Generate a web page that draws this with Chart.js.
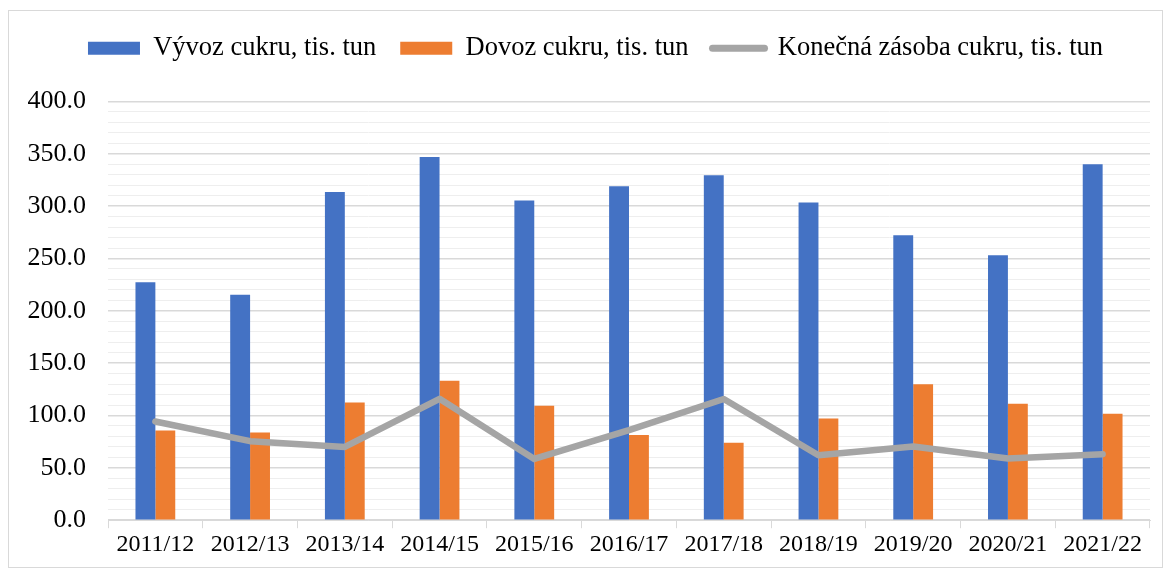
<!DOCTYPE html>
<html>
<head>
<meta charset="utf-8">
<script src="https://cdn.jsdelivr.net/npm/chart.js@4.4.1/dist/chart.umd.min.js"></script>
<style>
  html, body { margin: 0; padding: 0; background: #fff; }
  #wrap {
    position: absolute; left: 8px; top: 10px;
    width: 1153px; height: 556px;
    border: 1px solid #d9d9d9;
  }
</style>
</head>
<body>
<div id="wrap"><canvas id="chart"></canvas></div>
<script>
var seasons = ['2011/12', '2012/13', '2013/14', '2014/15', '2015/16', '2016/17',
               '2017/18', '2018/19', '2019/20', '2020/21', '2021/22'];
var exportValues = [227.3, 215.5, 313.5, 347.0, 305.5, 319.0, 329.5, 303.5, 272.3, 253.0, 340.0];
var importValues = [85.8, 83.8, 112.5, 133.3, 109.3, 81.3, 73.9, 97.2, 129.8, 111.3, 101.7];
var stockValues = [94.3, 75.5, 70.0, 116.0, 58.5, 86.0, 115.8, 62.0, 70.5, 59.0, 63.0];

var serif = "'Liberation Serif', 'Times New Roman', serif";

// extra room under the legend, and nudge it a bit to the right
var legendSpace = {
  id: 'legendSpace',
  beforeInit: function(chart){
    var fit = chart.legend.fit;
    chart.legend.fit = function(){
      fit.bind(chart.legend)();
      this.height += 30;
    };
  },
  afterLayout: function(chart){
    chart.legend.left += 16;
    chart.legend.right += 16;
  }
};

document.addEventListener("DOMContentLoaded", function(){
  var ctx = document.getElementById('chart').getContext('2d');
  new Chart(ctx, {
    type: 'bar',
    data: {
      labels: seasons,
      datasets: [
        {
          label: 'Vývoz cukru, tis. tun',
          data: exportValues,
          backgroundColor: '#4472C4',
          borderWidth: 0,
          order: 1
        },
        {
          label: 'Dovoz cukru, tis. tun',
          data: importValues,
          backgroundColor: '#ED7D31',
          borderWidth: 0,
          order: 1
        },
        {
          type: 'line',
          label: 'Konečná zásoba cukru, tis. tun',
          data: stockValues,
          borderColor: '#A5A5A5',
          backgroundColor: '#A5A5A5',
          borderWidth: 6.5,
          borderCapStyle: 'round',
          borderJoinStyle: 'round',
          pointRadius: 0,
          tension: 0,
          order: 0
        }
      ]
    },
    plugins: [legendSpace],
    options: {
      responsive: true,
      maintainAspectRatio: false,
      animation: false,
      categoryPercentage: 0.42,
      barPercentage: 1.0,
      layout: { padding: { left: 0, right: 12, top: 0, bottom: 6 } },
      plugins: {
        tooltip: { enabled: false },
        legend: {
          position: 'top',
          labels: {
            font: { family: serif, size: 26.5 },
            color: '#000',
            usePointStyle: true,
            pointStyleWidth: 52,
            boxHeight: 13,
            padding: 24,
            sort: function(a, b){ return a.datasetIndex - b.datasetIndex; },
            generateLabels: function(chart){
              var items = Chart.defaults.plugins.legend.labels.generateLabels(chart);
              items.forEach(function(it){
                if (it.datasetIndex < 2) { it.pointStyle = 'rect'; it.lineWidth = 0; }
                else { it.pointStyle = 'line'; it.lineWidth = 7; it.lineCap = 'round'; it.strokeStyle = '#A5A5A5'; }
              });
              return items;
            }
          }
        }
      },
      scales: {
        x: {
          offset: true,
          grid: { drawOnChartArea: false, drawTicks: true, tickLength: 8, offset: true, color: '#d9d9d9' },
          border: { display: true, color: '#d9d9d9', width: 1 },
          ticks: { font: { family: serif, size: 24 }, color: '#000', padding: 2, maxRotation: 0 }
        },
        y: {
          min: 0,
          max: 400,
          afterFit: function(scale){ scale.width = 99; },
          border: { display: false },
          grid: {
            drawTicks: false,
            color: function(c){ return c.tick && c.tick.value % 50 === 0 ? '#d9d9d9' : '#eeeeee'; },
            lineWidth: function(c){ return c.tick && c.tick.value % 50 === 0 ? 1.5 : 1; }
          },
          ticks: {
            stepSize: 10,
            autoSkip: false,
            padding: 22,
            font: { family: serif, size: 26 },
            color: '#000',
            callback: function(v){ return v % 50 === 0 ? v.toFixed(1) : ''; }
          }
        }
      }
    }
  });
});
</script>
</body>
</html>
